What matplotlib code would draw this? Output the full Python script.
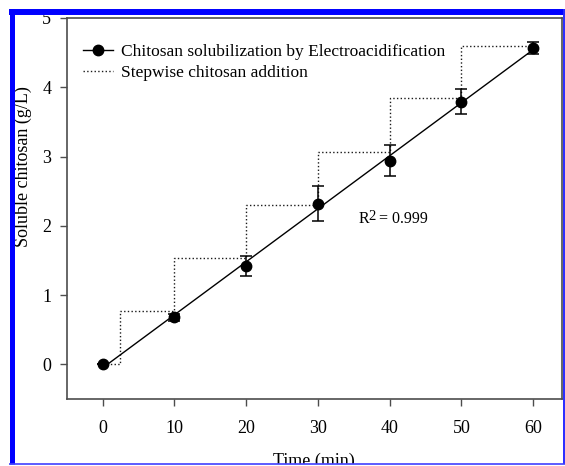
import numpy as np
import matplotlib
matplotlib.use("Agg")
import matplotlib.pyplot as plt
from matplotlib.lines import Line2D

plt.rcParams["font.family"] = ["Liberation Serif", "DejaVu Serif"]

# measured solubilization (g/L) with error bars
time_min = [0, 10, 20, 30, 40, 50, 60]
soluble = [0.0, 0.68, 1.42, 2.32, 2.94, 3.79, 4.57]
soluble_err = [0.0, 0.05, 0.15, 0.25, 0.22, 0.18, 0.09]

# stepwise chitosan addition (staircase)
step_time = [0, 2.5, 2.5, 10, 10, 20, 20, 30, 30, 40, 40, 50, 50, 60]
step_level = [0, 0, 0.77, 0.77, 1.53, 1.53, 2.30, 2.30, 3.07, 3.07, 3.84, 3.84, 4.60, 4.60]

x_ticks = [0, 10, 20, 30, 40, 50, 60]
y_ticks = [0, 1, 2, 3, 4, 5]

fig = plt.figure(figsize=(5.65, 4.66), dpi=100)
ax = fig.add_axes([0.1179, 0.1438, 0.8768, 0.8176])

# linear fit through the measured points
coef = np.polyfit(time_min, soluble, 1)
fit_x = np.array([time_min[0], time_min[-1]])
ax.plot(fit_x, np.polyval(coef, fit_x), color="black", lw=1.0, zorder=2)

ax.plot(step_time, step_level, color="0.1", lw=1.0, ls=":", zorder=1)

ax.errorbar(time_min, soluble, yerr=soluble_err, fmt="o", color="black",
            ms=7.5, elinewidth=1.1, capsize=4, capthick=1.1, zorder=3)

# R^2 label, superscript drawn nearly full size like the original
ax.annotate("R", (35.6, 2.04), fontsize=11.5, va="baseline", ha="left")
ax.annotate("2", (35.6, 2.04), xytext=(7.4, 2.5), textcoords="offset points",
            fontsize=10.5, va="baseline", ha="left")
ax.annotate("= 0.999", (35.6, 2.04), xytext=(15.3, 0), textcoords="offset points",
            fontsize=11.5, va="baseline", ha="left")

ax.set_xlim(-5, 64)
ax.set_ylim(-0.5, 5)
ax.set_xticks(x_ticks)
ax.set_yticks(y_ticks)
ax.tick_params(direction="out", length=5, width=1, color="0.3", labelsize=13)
ax.tick_params(axis="x", pad=10)
ax.tick_params(axis="y", pad=6)
for s in ax.spines.values():
    s.set_color("0.3")
    s.set_linewidth(1.2)

ax.set_xlabel("Time (min)", fontsize=13)
ax.xaxis.set_label_coords(0.5, -0.142)
ax.set_ylabel("Soluble chitosan (g/L)", fontsize=13)
ax.yaxis.set_label_coords(-0.070, 0.61)

handles = [
    Line2D([], [], color="black", lw=1.0, marker="o", ms=7.5),
    Line2D([], [], color="0.1", lw=1.0, ls=":"),
]
labels = ["Chitosan solubilization by Electroacidification",
          "Stepwise chitosan addition"]
ax.legend(handles, labels, loc="upper left", bbox_to_anchor=(0.033, 0.932),
          frameon=False, fontsize=12.5, handlelength=1.73, handletextpad=0.46,
          borderpad=0, borderaxespad=0, labelspacing=0.3)

# blue frame around the figure
W, H = 565, 466
def fig_line(x0, y0, x1, y1, lw, color="#0000ff"):
    fig.add_artist(Line2D([x0 / W, x1 / W], [1 - y0 / H, 1 - y1 / H],
                          color=color, lw=lw, zorder=20,
                          transform=fig.transFigure, solid_capstyle="butt"))

fig.add_artist(plt.Rectangle((0, 1 - 9 / H), 1, 9 / H, color="white",
                             transform=fig.transFigure, zorder=19))
fig.add_artist(plt.Rectangle((0, 0), 1, 2 / H, color="white",
                             transform=fig.transFigure, zorder=19))
fig_line(9, 12, 565, 12, 4.3)
fig_line(11.5, 9, 11.5, 464, 3.6)
fig_line(563.5, 9, 563.5, 464, 1.4, "#2a2aff")
fig_line(9, 463.5, 565, 463.5, 1.2, "#4040ff")

fig.savefig("out.png", dpi=100)
